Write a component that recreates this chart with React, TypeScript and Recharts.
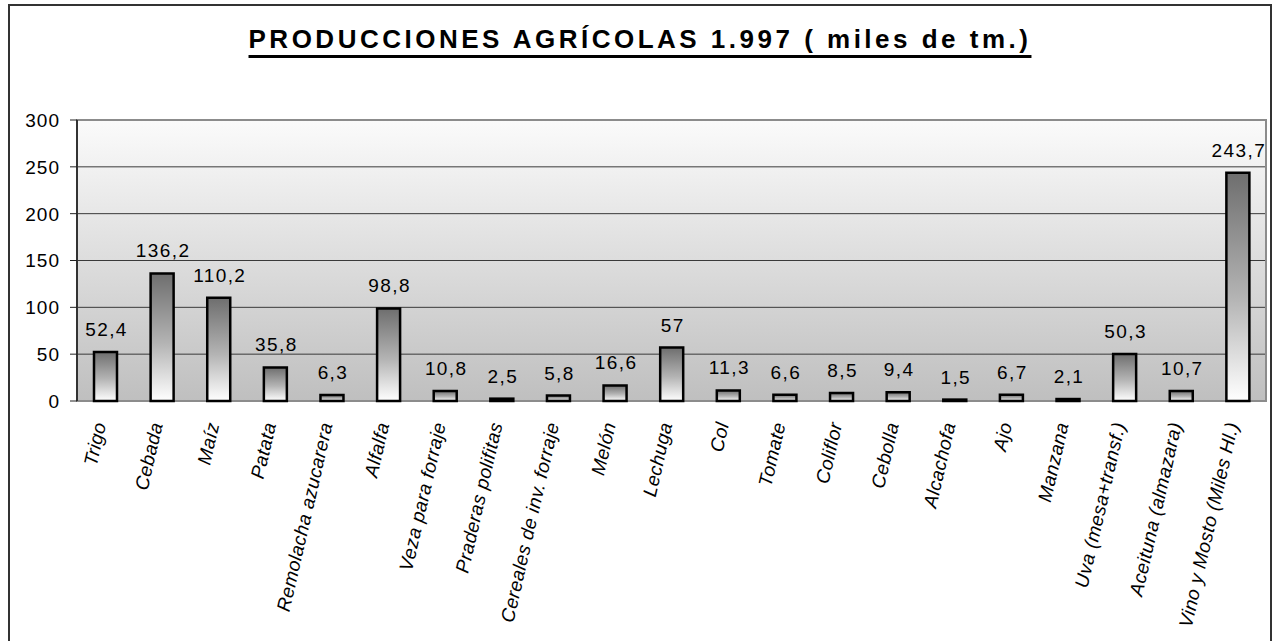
import React from 'react';
import { BarChart, Bar, XAxis, YAxis, CartesianGrid, LabelList, ReferenceArea } from 'recharts';

const categories = [
  'Trigo', 'Cebada', 'Maíz', 'Patata', 'Remolacha azucarera', 'Alfalfa',
  'Veza para forraje', 'Praderas polifitas', 'Cereales de inv. forraje', 'Melón',
  'Lechuga', 'Col', 'Tomate', 'Coliflor', 'Cebolla', 'Alcachofa', 'Ajo', 'Manzana',
  'Uva (mesa+transf.)', 'Aceituna (almazara)', 'Vino y Mosto (Miles Hl.)',
];
const values = [
  52.4, 136.2, 110.2, 35.8, 6.3, 98.8, 10.8, 2.5, 5.8, 16.6,
  57, 11.3, 6.6, 8.5, 9.4, 1.5, 6.7, 2.1, 50.3, 10.7, 243.7,
];
const yTicks = [0, 50, 100, 150, 200, 250, 300];
const title = 'PRODUCCIONES AGRÍCOLAS 1.997 ( miles de tm.)';

const chartData = categories.map((name, i) => ({ name, value: values[i] }));
// tick marks sit between categories, like the original spreadsheet chart
const boundaryTicks = categories.map((_, i) => i).concat(categories.length);

const FONT = 'Arial, "Liberation Sans", sans-serif';

const fmt = (v: number) => String(v).replace('.', ',');

const YTick = ({ x, y, payload }: any) => (
  <text x={x} y={y} dy="0.36em" textAnchor="end" fontSize={19} letterSpacing={1} fill="#000" fontFamily={FONT}>
    {payload.value}
  </text>
);

const XTick = ({ x, y, payload }: any) => (
  <g transform={`translate(${x + 1},${y})`}>
    <text transform="rotate(-77)" textAnchor="end" fontSize={19} fontStyle="italic" letterSpacing={0.4} fill="#000" fontFamily={FONT}>
      {payload.value}
    </text>
  </g>
);

const ValueLabel = ({ x, y, width, value }: any) => (
  <text x={x + width / 2 + 1} y={y - 16} textAnchor="middle" fontSize={19} letterSpacing={1.4} fill="#000" fontFamily={FONT}>
    {fmt(value)}
  </text>
);

export default function App() {
  return (
    <div style={{ position: 'absolute', left: 0, top: 0, width: 1273, height: 641, background: '#fff', fontFamily: FONT }}>
      <div
        style={{
          position: 'absolute', left: 8, top: 4, width: 1264, height: 640,
          border: '2px solid #333', boxSizing: 'border-box',
        }}
      />
      <div
        style={{
          position: 'absolute', left: 0, top: 26, width: 1280, textAlign: 'center',
          fontSize: 26, lineHeight: '26px', fontWeight: 'bold', letterSpacing: 3.5,
          textDecoration: 'underline', textDecorationThickness: '3px', textUnderlineOffset: '7px',
          color: '#000',
        }}
      >
        {title}
      </div>
      <div style={{ position: 'absolute', left: 0, top: 0 }}>
        <BarChart width={1273} height={641} data={chartData} margin={{ top: 120, right: 7, left: 0, bottom: 0 }}>
          <defs>
            <linearGradient id="plotBg" x1="0" y1="0" x2="0" y2="1">
              <stop offset="0%" stopColor="#fbfbfb" />
              <stop offset="100%" stopColor="#bfbfbf" />
            </linearGradient>
            <linearGradient id="barGrad" x1="0" y1="0" x2="0" y2="1">
              <stop offset="0%" stopColor="#6e6e6e" />
              <stop offset="55%" stopColor="#b4b4b4" />
              <stop offset="100%" stopColor="#ffffff" />
            </linearGradient>
          </defs>
          <CartesianGrid vertical={false} stroke="#3a3a3a" strokeWidth={1} fill="url(#plotBg)" fillOpacity={1} />
          <ReferenceArea y1={0} y2={300} fill="none" stroke="#8c8c8c" strokeWidth={2} ifOverflow="visible" />
          <XAxis
            dataKey="name"
            xAxisId="cat"
            height={240}
            interval={0}
            axisLine={false}
            tickLine={false}
            tickSize={6}
            tickMargin={17}
            tick={<XTick />}
          />
          <XAxis
            xAxisId="bounds"
            type="number"
            domain={[0, categories.length]}
            ticks={boundaryTicks}
            allowDataOverflow
            height={0}
            tick={false}
            tickSize={7}
            axisLine={{ stroke: '#222', strokeWidth: 1.5 }}
            tickLine={{ stroke: '#222', strokeWidth: 1 }}
          />
          <YAxis
            width={77}
            domain={[0, 300]}
            ticks={yTicks}
            interval={0}
            tickSize={7}
            tickMargin={10}
            axisLine={{ stroke: '#333', strokeWidth: 2 }}
            tickLine={{ stroke: '#222', strokeWidth: 1 }}
            tick={<YTick />}
          />
          <Bar
            dataKey="value"
            xAxisId="cat"
            barSize={23}
            fill="url(#barGrad)"
            stroke="#000"
            strokeWidth={2.5}
            isAnimationActive={false}
          >
            <LabelList dataKey="value" content={<ValueLabel />} />
          </Bar>
        </BarChart>
      </div>
    </div>
  );
}
